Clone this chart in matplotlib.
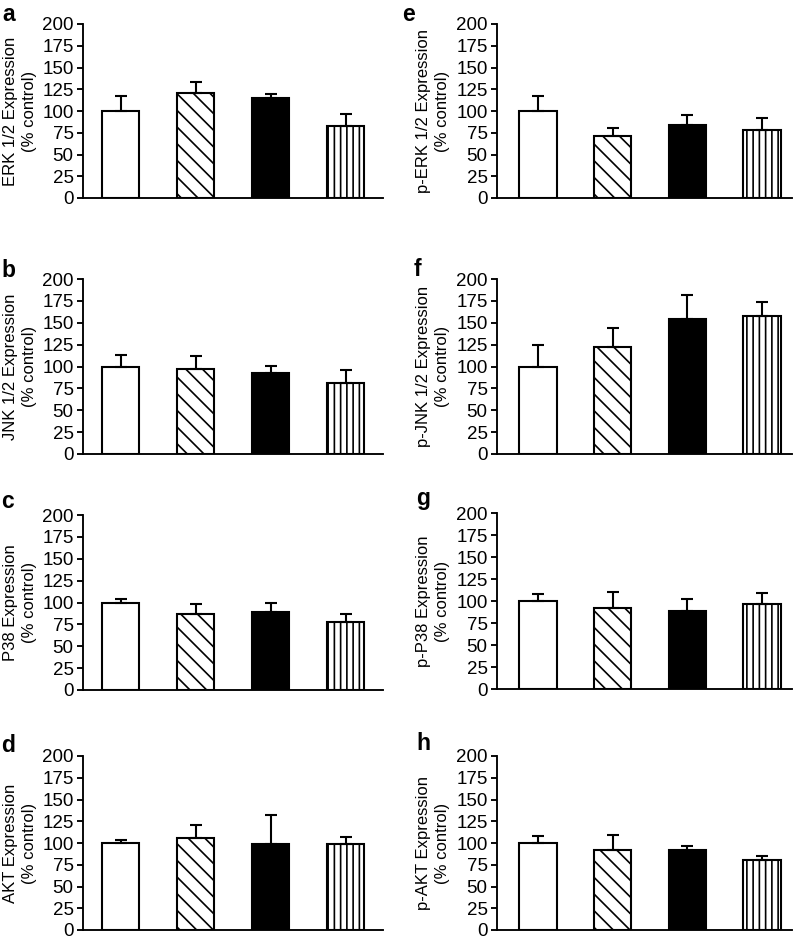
import matplotlib
matplotlib.use("Agg")
import matplotlib.pyplot as plt

plt.rcParams['font.family'] = ['Liberation Sans', 'DejaVu Sans']
plt.rcParams['hatch.linewidth'] = 0.8

# four treatment groups, same order in every panel
groups = ['control', 'group 2', 'group 3', 'group 4']
face_colors = ['white', 'white', 'black', 'white']
hatches = ['', '\\\\\\', '', '||||']

# panel data: mean and upper error (% control)
erk_mean = [100, 120.5, 114.5, 83.3]
erk_err = [17.4, 13.3, 5.2, 13.8]
jnk_mean = [100, 97.5, 92.6, 80.8]
jnk_err = [13.5, 14.1, 8.0, 15.6]
p38_mean = [100, 86.3, 89.3, 77.9]
p38_err = [4.2, 12.2, 10.7, 9.1]
akt_mean = [100, 105.3, 99.2, 99.2]
akt_err = [3.0, 14.9, 32.8, 8.1]
perk_mean = [100, 71.5, 83.7, 78.4]
perk_err = [17.0, 9.2, 11.5, 13.0]
pjnk_mean = [100, 121.9, 154.7, 157.3]
pjnk_err = [24.5, 22.5, 26.6, 16.0]
pp38_mean = [100, 91.6, 89.0, 97.0]
pp38_err = [8.4, 19.0, 13.7, 12.0]
pakt_mean = [100, 92.0, 92.4, 80.2]
pakt_err = [8.0, 17.2, 4.6, 4.9]

letters = ['a', 'b', 'c', 'd', 'e', 'f', 'g', 'h']
ylabels = ['ERK 1/2 Expression', 'JNK 1/2 Expression', 'P38 Expression', 'AKT Expression',
           'p-ERK 1/2 Expression', 'p-JNK 1/2 Expression', 'p-P38 Expression', 'p-AKT Expression']
means = [erk_mean, jnk_mean, p38_mean, akt_mean, perk_mean, pjnk_mean, pp38_mean, pakt_mean]
errs = [erk_err, jnk_err, p38_err, akt_err, perk_err, pjnk_err, pp38_err, pakt_err]
yticks = [0, 25, 50, 75, 100, 125, 150, 175, 200]

W, H = 800, 939
fig = plt.figure(figsize=(W / 150, H / 150), dpi=150)

# axes boxes in pixels: (left, top, right, bottom)
boxes = [(83, 24, 383, 198), (83, 279, 383, 454), (83, 515, 383, 690), (83, 756, 383, 930),
         (497, 24, 792, 198), (497, 279, 792, 454), (497, 513, 792, 689), (497, 756, 792, 930)]
# panel letter positions (x, baseline) in pixels
letter_pos = [(2, 21), (1, 277), (1, 508), (1, 752), (402, 21), (414, 276), (416, 505), (416, 750)]

x = range(len(groups))
for i in range(8):
    l, t, r, b = boxes[i]
    ax = fig.add_axes([l / W, 1 - b / H, (r - l) / W, (b - t) / H])
    ax.bar(x, means[i], width=0.5, color=face_colors, edgecolor='black',
           linewidth=1.0, hatch=hatches, zorder=2)
    ax.errorbar(x, means[i], yerr=[[0] * 4, errs[i]], fmt='none', ecolor='black',
                elinewidth=1.0, capsize=3, capthick=1.0, zorder=3)
    ax.set_ylim(0, 200)
    if i < 4:
        ax.set_xlim(-0.5, 3.5)
    else:
        ax.set_xlim(-0.55, 3.4)
    ax.set_yticks(yticks)
    ax.set_xticks([])
    ax.spines['top'].set_visible(False)
    ax.spines['right'].set_visible(False)
    ax.spines['left'].set_linewidth(0.9)
    ax.spines['bottom'].set_linewidth(0.9)
    ax.tick_params(axis='y', labelsize=9, length=3, width=0.9, pad=1.5)
    ax.set_ylabel(ylabels[i] + '\n(% control)', fontsize=8, va='center',
                  linespacing=1.3)
    ax.yaxis.set_label_coords(-(l - 20 - (0 if i < 4 else 413)) / (r - l), 0.5)
    fig.text(letter_pos[i][0] / W, 1 - letter_pos[i][1] / H, letters[i],
             fontsize=11, fontweight='bold', ha='left', va='baseline')

fig.savefig('out.png', dpi=150)
